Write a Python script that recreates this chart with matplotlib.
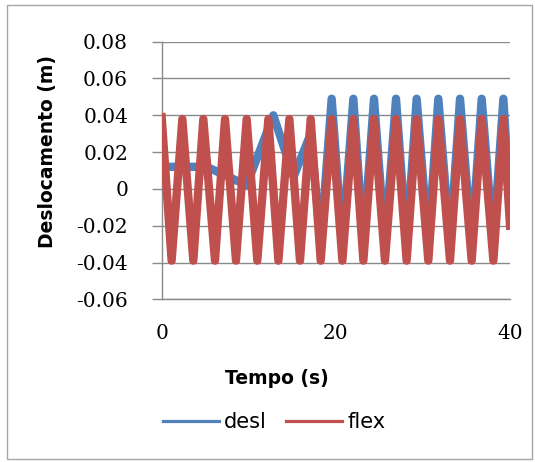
import matplotlib
matplotlib.use("Agg")
import matplotlib.pyplot as plt
from matplotlib.lines import Line2D
from matplotlib.patches import Rectangle

OUT_NAME = "out.png"
W_PX, H_PX = 535, 462

# turning points (time s, displacement m)
FLEX_T = [0.0, 1.14, 2.37, 3.63, 4.78, 6.12, 7.27, 8.53, 9.76, 10.98, 12.25,
          13.40, 14.66, 15.88, 17.11, 18.26, 19.52, 20.75, 22.01, 23.16, 24.38,
          25.64, 26.91, 28.13, 29.28, 30.62, 31.77, 33.11, 34.26, 35.60, 36.75,
          38.09, 39.24, 40.0]
FLEX_V = [0.039, -0.039, 0.038, -0.039, 0.038, -0.039, 0.038, -0.039, 0.038,
          -0.039, 0.038, -0.039, 0.038, -0.039, 0.038, -0.039, 0.038, -0.039,
          0.038, -0.039, 0.038, -0.039, 0.038, -0.039, 0.038, -0.039, 0.038,
          -0.039, 0.038, -0.039, 0.038, -0.039, 0.038, -0.020]

DESL_T = [0.0, 5.17, 9.76, 12.82, 15.15, 17.11, 18.26, 19.52, 20.75, 22.01,
          23.16, 24.38, 25.64, 26.91, 28.13, 29.28, 30.62, 31.77, 33.11, 34.26,
          35.60, 36.75, 38.09, 39.24, 40.0]
DESL_V = [0.012, 0.012, 0.002, 0.040, 0.0066, 0.030, -0.030, 0.049, -0.030,
          0.049, -0.030, 0.049, -0.030, 0.049, -0.030, 0.049, -0.030, 0.049,
          -0.030, 0.049, -0.030, 0.049, -0.030, 0.049, -0.010]

X_TICKS = [0, 20, 40]
Y_TICKS = [-0.06, -0.04, -0.02, 0.0, 0.02, 0.04, 0.06, 0.08]
Y_TICK_LABELS = ["-0.06", "-0.04", "-0.02", "0", "0.02", "0.04", "0.06", "0.08"]
SERIES_NAMES = ["desl", "flex"]

BLUE = "#4F81BD"
RED = "#C0504D"
GRID = "#8a8a8a"
TICK_FONT = {"family": "DejaVu Serif", "size": 14.5}


def px_box(left, top, right, bottom):
    return [left / W_PX, 1 - bottom / H_PX, (right - left) / W_PX, (bottom - top) / H_PX]


def main():
    fig = plt.figure(figsize=(W_PX / 100, H_PX / 100), dpi=100)
    ax = fig.add_axes(px_box(161.7, 41.7, 510, 299.3))

    ax.plot(DESL_T, DESL_V, color=BLUE, lw=6.0, solid_joinstyle="round", zorder=3)
    ax.plot(FLEX_T, FLEX_V, color=RED, lw=6.0, solid_joinstyle="round", zorder=4)

    ax.set_xlim(0, 40)
    ax.set_ylim(-0.06, 0.08)
    ax.set_xticks(X_TICKS)
    ax.set_xticklabels([str(v) for v in X_TICKS], **TICK_FONT)
    ax.set_yticks(Y_TICKS)
    ax.set_yticklabels(Y_TICK_LABELS, **TICK_FONT)
    ax.tick_params(axis="x", length=0, pad=18)
    ax.tick_params(axis="y", length=7.2, width=1.0, color=GRID, pad=17)

    ax.set_axisbelow(True)
    ax.grid(axis="y", color=GRID, lw=1.0)
    for side in ("top", "right"):
        ax.spines[side].set_visible(False)
    for side in ("left", "bottom"):
        ax.spines[side].set_color(GRID)
        ax.spines[side].set_linewidth(1.0)

    fig.text(277 / W_PX, 1 - 379 / H_PX, "Tempo (s)", ha="center", va="center",
             fontsize=13.5, fontweight="bold")
    fig.text(48 / W_PX, 1 - 152 / H_PX, "Deslocamento (m)", ha="center", va="center",
             rotation=90, fontsize=13.5, fontweight="bold")

    handles = [Line2D([], [], color=BLUE, lw=2.3), Line2D([], [], color=RED, lw=2.3)]
    fig.legend(handles, SERIES_NAMES, loc="center", bbox_to_anchor=(274 / W_PX, 1 - 422 / H_PX),
               ncol=2, frameon=False, fontsize=15, handlelength=2.7,
               handletextpad=0.25, columnspacing=0.9, borderpad=0.0)

    fig.patches.append(Rectangle((7 / W_PX, 1 - 459 / H_PX), 525 / W_PX, 454 / H_PX,
                                 transform=fig.transFigure, fill=False,
                                 edgecolor="#a6a6a6", lw=1.0))

    fig.savefig(OUT_NAME, dpi=100)


if __name__ == "__main__":
    main()
